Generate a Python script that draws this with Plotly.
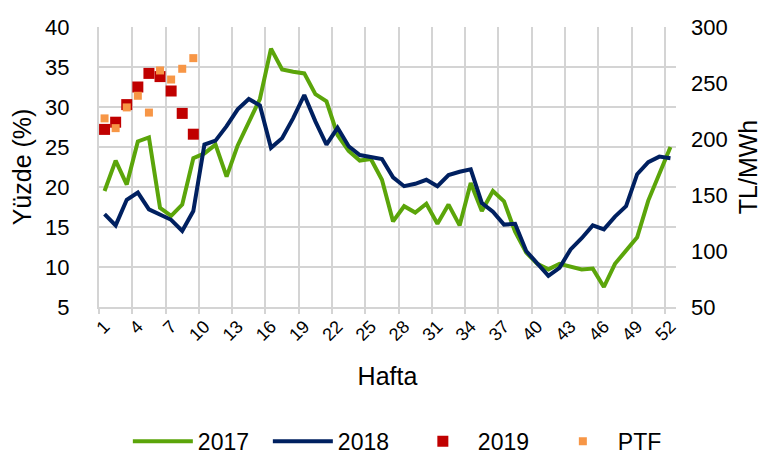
import plotly.graph_objects as go

weeks = list(range(1, 53))

y2017 = [19.5, 23.3, 20.3, 25.7, 26.2, 17.4, 16.4, 17.8, 23.6, 24.2,
         25.3, 21.3, 25.2, 28.2, 31.0, 37.3, 34.7, 34.4, 34.2, 31.6,
         30.7, 26.5, 24.5, 23.3, 23.5, 20.9, 15.7, 17.6, 16.8, 17.9,
         15.4, 17.8, 15.2, 20.5, 17.0, 19.5, 18.2, 14.4, 11.8, 10.4,
         9.7, 10.4, 10.1, 9.7, 9.8, 7.5, 10.4, 12.1, 13.7, 18.3,
         21.7, 25.0]

y2018 = [16.6, 15.2, 18.4, 19.3, 17.2, 16.5, 15.9, 14.5, 17.0, 25.3,
         25.8, 27.6, 29.7, 31.0, 30.2, 24.9, 26.1, 28.6, 31.5, 28.2,
         25.3, 27.4, 25.1, 24.0, 23.7, 23.5, 21.2, 20.1, 20.4, 20.9,
         20.1, 21.5, 21.9, 22.2, 18.0, 16.9, 15.3, 15.4, 12.0, 10.4,
         8.9, 9.9, 12.2, 13.6, 15.2, 14.7, 16.3, 17.6, 21.6, 23.1,
         23.8, 23.6]

weeks2019 = [1, 2, 3, 4, 5, 6, 7, 8, 9]
y2019 = [27.2, 28.1, 30.3, 32.5, 34.2, 33.8, 32.0, 29.2, 26.6]
ptf = [218.4, 209.7, 228.2, 238.6, 223.6, 261.2, 253.1, 262.7, 272.2]

tick_weeks = list(range(1, 53, 3))
tick_labels = [str(w) for w in tick_weeks]

font = "Liberation Sans, Arial, sans-serif"
grid = "#D4D4D4"

fig = go.Figure()
fig.add_trace(go.Scatter(x=weeks, y=y2017, name="2017", mode="lines",
                         line=dict(color="#5BA50A", width=4)))
fig.add_trace(go.Scatter(x=weeks, y=y2018, name="2018", mode="lines",
                         line=dict(color="#002060", width=4)))
fig.add_trace(go.Scatter(x=weeks2019, y=y2019, name="2019", mode="markers",
                         marker=dict(color="#C00000", size=11, symbol="square")))
fig.add_trace(go.Scatter(x=weeks2019, y=ptf, name="PTF", mode="markers",
                         xaxis="x2", yaxis="y2",
                         marker=dict(color="#F79646", size=8, symbol="square")))

fig.update_layout(
    width=773, height=467,
    margin=dict(l=91, r=105, t=19, b=160),
    paper_bgcolor="white", plot_bgcolor="white",
    font=dict(family=font, color="#000000", size=22),
    showlegend=True,
    legend=dict(orientation="h", x=0.05, xanchor="left", y=-0.48, yanchor="middle",
                font=dict(size=23), itemwidth=60, entrywidth=65),
    xaxis=dict(range=[0.5, 52.5], automargin=False, type="linear",
               tickmode="array", tickvals=tick_weeks, ticktext=tick_labels,
               tickangle=-45, tickfont=dict(size=18),
               showgrid=False, ticks="",
               showline=True, linecolor=grid, linewidth=2, zeroline=False,
               title=dict(text="Hafta", font=dict(size=25), standoff=24)),
    xaxis2=dict(range=[0.5, 52.5], overlaying="x", side="bottom", type="linear",
                automargin=False, showticklabels=False,
                tickmode="array", tickvals=[w - 0.5 for w in tick_weeks],
                showgrid=True, gridcolor=grid, gridwidth=2, layer="below traces",
                ticks="outside", ticklen=6, tickcolor=grid, tickwidth=2,
                zeroline=False, showline=False),
    yaxis=dict(range=[5, 40], dtick=5, tick0=5, showgrid=True, gridcolor=grid, gridwidth=2,
               showline=True, linecolor=grid, linewidth=2, zeroline=False,
               automargin=False,
               ticks="", tickfont=dict(size=22), ticklabelstandoff=23,
               title=dict(text="Yüzde (%)", font=dict(size=25), standoff=8)),
    yaxis2=dict(range=[50, 300], dtick=50, tick0=50, overlaying="y", side="right",
                showgrid=False, zeroline=False, showline=False, ticks="",
                automargin=False,
                tickfont=dict(size=22), ticklabelstandoff=14,
                title=dict(text="TL/MWh", font=dict(size=25), standoff=12)),
)

fig.write_html("out.html")
